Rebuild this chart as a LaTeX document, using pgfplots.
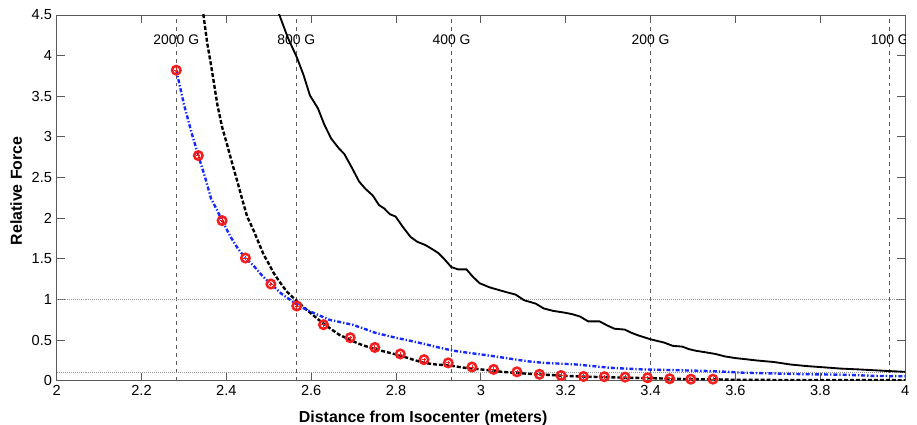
\documentclass[border=0pt]{standalone}
\usepackage{fontspec}
\setmainfont{Liberation Sans}
\usepackage{pgfplots}
\pgfplotsset{compat=1.18}
\definecolor{axgray}{RGB}{90,90,90}
\definecolor{mblue}{RGB}{20,40,255}
\definecolor{mred}{RGB}{245,30,30}

\begin{document}
\begin{tikzpicture}
\useasboundingbox (-42.75pt,-33pt) rectangle (649pt,287.25pt);
\begin{axis}[
    at={(0,0)}, anchor=south west,
    scale only axis, width=640pt, height=276pt,
    xmin=2, xmax=4, ymin=0, ymax=4.5,
    xtick={2,2.2,...,4.01}, ytick={0,0.5,...,4.51},
    axis line style={axgray, line width=0.6pt},
    tick style={axgray, line width=0.6pt},
    major tick length=6pt, tick align=inside,
    font=\fontsize{11}{13}\selectfont,
    /pgf/number format/assume math mode=true,
    xlabel={\fontsize{12}{14}\selectfont\bfseries Distance from Isocenter (meters)},
    ylabel={\fontsize{12}{14}\selectfont\bfseries Relative Force},
    every axis x label/.style={at={(axis description cs:0.432,0)}, yshift=-28.5pt, anchor=center},
    every axis y label/.style={at={(axis description cs:0,0.519)}, xshift=-30.5pt, rotate=90, anchor=center},
    clip=true,
]
% reference lines
\addplot[axgray, dashed, line width=0.5pt] coordinates {(2.282,0) (2.282,4.5)};
\addplot[axgray, dashed, line width=0.5pt] coordinates {(2.565,0) (2.565,4.5)};
\addplot[axgray, dashed, line width=0.5pt] coordinates {(2.931,0) (2.931,4.5)};
\addplot[axgray, dashed, line width=0.5pt] coordinates {(3.400,0) (3.400,4.5)};
\addplot[axgray, dashed, line width=0.5pt] coordinates {(3.964,0) (3.964,4.5)};
\addplot[gray!80, densely dotted, line width=0.5pt] coordinates {(2,1) (4,1)};
\addplot[gray!80, densely dotted, line width=0.5pt] coordinates {(2,0.1) (4,0.1)};

% black solid
\addplot[black, line width=1.4pt] coordinates {
(2.505,4.75) (2.525,4.5) (2.545,4.22) (2.566,3.98) (2.582,3.76) (2.597,3.51) (2.616,3.35)
(2.631,3.15) (2.647,2.98) (2.665,2.86) (2.678,2.79) (2.695,2.63) (2.713,2.45) (2.728,2.36)
(2.745,2.28) (2.760,2.16) (2.772,2.12) (2.785,2.05) (2.799,2.02) (2.815,1.90) (2.834,1.77)
(2.850,1.71) (2.869,1.67) (2.885,1.62) (2.900,1.57) (2.915,1.49) (2.930,1.40) (2.946,1.37)
(2.966,1.37) (2.981,1.28) (2.997,1.20) (3.020,1.15) (3.040,1.12) (3.060,1.09) (3.082,1.06)
(3.102,0.99) (3.129,0.95) (3.148,0.89) (3.170,0.86) (3.195,0.84) (3.215,0.82) (3.234,0.79)
(3.253,0.73) (3.280,0.73) (3.298,0.68) (3.315,0.64) (3.339,0.63) (3.355,0.59) (3.370,0.56)
(3.400,0.51) (3.432,0.47) (3.452,0.43) (3.475,0.42) (3.490,0.39) (3.506,0.37) (3.530,0.35)
(3.553,0.33) (3.575,0.30) (3.599,0.28) (3.650,0.25) (3.692,0.23) (3.730,0.20) (3.770,0.18)
(3.810,0.165) (3.848,0.15) (3.890,0.14) (3.925,0.13) (3.960,0.12) (4.000,0.11)};

% black dashed
\addplot[black, line width=1.8pt, dash pattern=on 3pt off 1.5pt] coordinates {
(2.338,4.8) (2.346,4.5) (2.355,4.15) (2.364,3.88) (2.379,3.39) (2.390,3.12) (2.402,2.90)
(2.414,2.67) (2.426,2.45) (2.437,2.24) (2.449,2.02) (2.465,1.84) (2.476,1.70) (2.488,1.55)
(2.500,1.44) (2.511,1.33) (2.525,1.22) (2.542,1.10) (2.566,0.98) (2.597,0.84) (2.620,0.74)
(2.643,0.65) (2.665,0.57) (2.692,0.50) (2.720,0.44) (2.750,0.39) (2.780,0.35) (2.810,0.31)
(2.840,0.26) (2.866,0.22) (2.895,0.20) (2.923,0.19) (2.962,0.16) (3.000,0.14) (3.050,0.11)
(3.100,0.09) (3.150,0.075) (3.200,0.06) (3.250,0.05) (3.300,0.043) (3.350,0.037) (3.400,0.032)
(3.450,0.025) (3.500,0.02) (3.550,0.018) (3.600,0.012) (3.700,0.01) (3.800,0.009) (3.900,0.008)
(4.000,0.007)};

% blue dash-dot
\addplot[mblue, line width=1.8pt, dash pattern=on 3pt off 1.5pt on 1pt off 1.5pt] coordinates {
(2.282,3.82) (2.300,3.40) (2.318,3.05) (2.334,2.77) (2.350,2.50) (2.364,2.24) (2.378,2.10)
(2.390,1.97) (2.410,1.77) (2.428,1.62) (2.445,1.51) (2.465,1.41) (2.485,1.29) (2.505,1.19)
(2.530,1.07) (2.566,0.94) (2.590,0.87) (2.612,0.82) (2.643,0.75) (2.670,0.72) (2.697,0.69)
(2.725,0.64) (2.751,0.59) (2.775,0.56) (2.799,0.53) (2.835,0.49) (2.869,0.45) (2.900,0.41)
(2.935,0.37) (2.962,0.35) (3.020,0.31) (3.071,0.27) (3.110,0.24) (3.148,0.22) (3.190,0.21)
(3.226,0.20) (3.265,0.18) (3.304,0.16) (3.340,0.15) (3.382,0.14) (3.420,0.135) (3.459,0.13)
(3.500,0.125) (3.537,0.12) (3.580,0.11) (3.614,0.10) (3.650,0.095) (3.692,0.09) (3.730,0.085)
(3.770,0.08) (3.810,0.078) (3.848,0.075) (3.890,0.068) (3.925,0.06) (3.960,0.058) (4.000,0.055)};

% red markers
\addplot[only marks, mark=o, mark size=3.2pt, mred, line width=1.9pt, fill=white] coordinates {
(2.282,3.82) (2.334,2.77) (2.390,1.97) (2.445,1.51) (2.505,1.19) (2.566,0.92) (2.629,0.69)
(2.692,0.53) (2.750,0.41) (2.810,0.33) (2.866,0.26) (2.923,0.22) (2.979,0.17) (3.030,0.14)
(3.085,0.11) (3.138,0.08) (3.189,0.065) (3.242,0.053) (3.291,0.05) (3.340,0.045) (3.393,0.037)
(3.445,0.025) (3.495,0.02) (3.547,0.02)};
\addplot[only marks, mark=+, mark size=1.6pt, mred, line width=0.6pt] coordinates {
(2.282,3.82) (2.334,2.77) (2.390,1.97) (2.445,1.51) (2.505,1.19) (2.566,0.92) (2.629,0.69)
(2.692,0.53) (2.750,0.41) (2.810,0.33) (2.866,0.26) (2.923,0.22) (2.979,0.17) (3.030,0.14)
(3.085,0.11) (3.138,0.08) (3.189,0.065) (3.242,0.053) (3.291,0.05) (3.340,0.045) (3.393,0.037)
(3.445,0.025) (3.495,0.02) (3.547,0.02)};

% field labels
\node[font=\fontsize{10.5}{12}\selectfont] at (axis cs:2.282,4.19) {2000 G};
\node[font=\fontsize{10.5}{12}\selectfont] at (axis cs:2.565,4.19) {800 G};
\node[font=\fontsize{10.5}{12}\selectfont] at (axis cs:2.931,4.19) {400 G};
\node[font=\fontsize{10.5}{12}\selectfont] at (axis cs:3.400,4.19) {200 G};
\node[font=\fontsize{10.5}{12}\selectfont] at (axis cs:3.964,4.19) {100 G};
\end{axis}
\end{tikzpicture}
\end{document}
